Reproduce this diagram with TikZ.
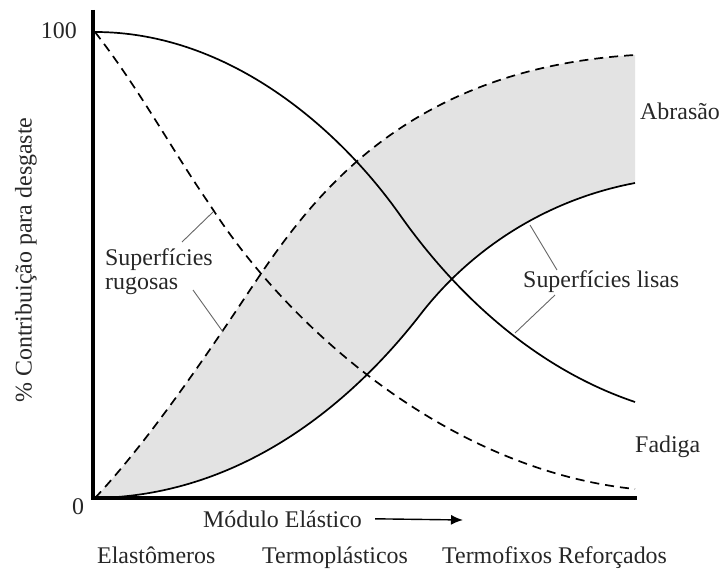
\documentclass[tikz,border=0pt]{standalone}
\usepackage{fontspec}
\setmainfont{Liberation Serif}
\usetikzlibrary{arrows.meta,calc}

\begin{document}
\begin{tikzpicture}[x=1bp,y=-1bp]
    \tikzset{
      eixo/.style={line width=3.4bp},
      curva/.style={line width=1.7bp},
      tracejada/.style={curva,dash pattern=on 9bp off 6bp},
      guia/.style={line width=0.9bp,black!60},
      sombra/.style={fill=black!11},
      rotulo/.style={font=\fontsize{24}{24}\selectfont,inner sep=0pt,text=black!85},
    }
    \useasboundingbox (0,0) rectangle (723,570);
    \def\eixos{
      \coordinate (topo) at (93,10);
      \coordinate (O) at (93,498);
      \coordinate (fim) at (637,498);
    }
    \def\showArea{
      % faixa entre superficies rugosas e lisas (abrasao)
      \fill[sombra] (95,498) .. controls (140,450) and (190,380) .. (240,305)
        .. controls (300,215) and (390,70) .. (635,55)
        -- (635,183) .. controls (545,200) and (470,250) .. (420,315)
        .. controls (350,405) and (240,496) .. (95,498) -- cycle;
    }
    \def\showCurves{
      % abrasao
      \draw[tracejada] (95,498) .. controls (140,450) and (190,380) .. (240,305)
        .. controls (300,215) and (390,70) .. (635,55);
      \draw[curva] (95,498) .. controls (240,496) and (350,405) .. (420,315)
        .. controls (470,250) and (545,200) .. (635,183);
      % fadiga
      \draw[tracejada] (95,32) .. controls (140,90) and (172,150) .. (210,205)
        .. controls (290,330) and (450,470) .. (635,489);
      \draw[curva] (95,32) .. controls (230,32) and (340,130) .. (400,215)
        .. controls (460,300) and (540,370) .. (635,402);
    }
    \def\showLabels{
      \node[rotulo,anchor=east] (cem) at (77,31) {100};
      \node[rotulo] (zero) at (78,507) {0};
      \node[rotulo,rotate=90] (ylab) at (26,260) {\% Contribuição para desgaste};
      \node[rotulo,anchor=base west] (abr) at (640,120) {Abrasão};
      \node[rotulo,anchor=base west] (fad) at (635,452) {Fadiga};
      \node[rotulo,anchor=base west] (lis) at (523,287) {Superfícies lisas};
      \node[rotulo,anchor=base west,align=left] (rug) at (105,289) {Superfícies\\rugosas};
      \node[rotulo,anchor=base west] (modulo) at (203,527) {Módulo Elástico};
      \node[rotulo,anchor=base west] (elas) at (97,563) {Elastômeros};
      \node[rotulo,anchor=base west] (termp) at (262,563) {Termoplásticos};
      \node[rotulo,anchor=base west] (termf) at (442,563) {Termofixos Reforçados};
    }
    \def\showGuides{
      \coordinate (r1a) at (182,242); \coordinate (r1b) at (213,212);
      \coordinate (r2a) at (193,290); \coordinate (r2b) at (223,332);
      \coordinate (l1a) at (557,270); \coordinate (l1b) at (530,225);
      \coordinate (l2a) at (555,295); \coordinate (l2b) at (515,333);
      \foreach \g in {r1,r2,l1,l2}
        \draw[guia] (\g a) -- (\g b);
    }
    \eixos
    \showArea
    \showCurves
    \draw[eixo] (topo) -- (O) -- (fim);
    \showLabels
    \showGuides
    \coordinate (setafim) at (463,520);
    \draw[line width=1.4bp,-{Latex[length=12bp,width=10bp]}] ([xshift=13bp]modulo.east) -- (setafim);
  \end{tikzpicture}
\end{document}
